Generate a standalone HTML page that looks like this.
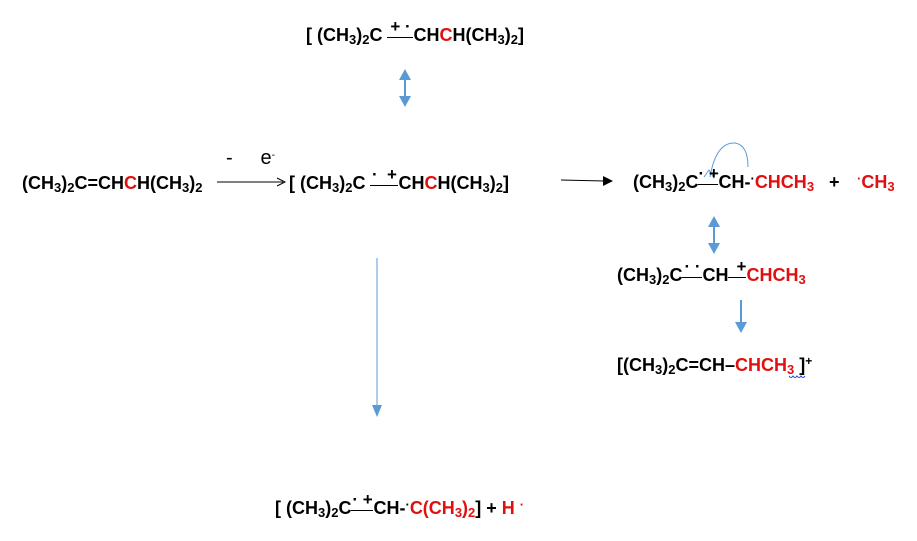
<!DOCTYPE html>
<html><head><meta charset="utf-8">
<style>
body{margin:0;width:917px;height:541px;background:#fff;position:relative;overflow:hidden;font-family:"Liberation Sans",Arial,sans-serif;}
.t{position:absolute;font-weight:bold;font-size:18px;white-space:nowrap;color:#000;line-height:20px;}
.r{color:#e01010;}
sub{font-size:13px;vertical-align:-3px;line-height:0;}
sup{font-size:12px;vertical-align:6px;line-height:0;}
.bd{display:inline-block;position:relative;height:0;border-top:1px solid #000;vertical-align:3px;}
.lb{position:absolute;top:-19px;left:0;width:100%;text-align:center;font-size:17px;line-height:16px;}
.dot{position:relative;top:-5px;font-size:13px;}
svg{position:absolute;left:0;top:0;}
</style></head><body>
<svg width="917" height="541">
<line x1="217" y1="182" x2="283" y2="182" stroke="#000" stroke-width="1"/>
<path d="M277,178 L285,182 L277,186" fill="none" stroke="#000" stroke-width="1"/>
<line x1="561" y1="180" x2="604" y2="181" stroke="#000" stroke-width="1"/>
<path d="M603,176 L613,181 L603,186 Z" fill="#000"/>
<g fill="#5b9bd5" stroke="#5b9bd5">
<line x1="405" y1="76" x2="405" y2="100" stroke-width="2"/>
<path d="M399,80 L405,69 L411,80 Z" stroke="none"/>
<path d="M399,96 L405,107 L411,96 Z" stroke="none"/>
<line x1="714" y1="222" x2="714" y2="248" stroke-width="2"/>
<path d="M708,227 L714,216 L720,227 Z" stroke="none"/>
<path d="M708,243 L714,254 L720,243 Z" stroke="none"/>
<line x1="741" y1="300" x2="741" y2="324" stroke-width="2"/>
<path d="M735,322 L741,333 L747,322 Z" stroke="none"/>
<line x1="377" y1="258" x2="377" y2="408" stroke-width="1"/>
<path d="M372,405 L377,417 L382,405 Z" stroke="none"/>
</g>
<path d="M710,177 Q716,142 735,143 Q748,145 748,167" fill="none" stroke="#5b9bd5" stroke-width="1"/>
<path d="M704,177 L709,170 L714,178" fill="none" stroke="#5b9bd5" stroke-width="1"/>
<path d="M789,376 q2,3 4,0 q2,3 4,0 q2,3 4,0 q2,3 4,0" fill="none" stroke="#2040d0" stroke-width="1"/>
</svg>

<div class="t" style="left:306px;top:25px">[ (CH<sub>3</sub>)<sub>2</sub>C <span class="bd" style="width:26px"><span class="lb">+ ·</span></span>CH<span class="r">C</span>H(CH<sub>3</sub>)<sub>2</sub>]</div>

<div class="t" style="left:226px;top:148px;font-weight:normal;font-size:20px">-&nbsp;&nbsp;&nbsp;&nbsp; e<sup style="font-size:10px">-</sup></div>

<div class="t" style="left:22px;top:173px">(CH<sub>3</sub>)<sub>2</sub>C=CH<span class="r">C</span>H(CH<sub>3</sub>)<sub>2</sub></div>

<div class="t" style="left:289px;top:173px">[ (CH<sub>3</sub>)<sub>2</sub>C <span class="bd" style="width:28px"><span class="lb">·&nbsp;&nbsp;+</span></span>CH<span class="r">C</span>H(CH<sub>3</sub>)<sub>2</sub>]</div>

<div class="t" style="left:633px;top:172px">(CH<sub>3</sub>)<sub>2</sub>C<span class="bd" style="width:20px"><span class="lb">·&nbsp;+</span></span>CH-<span class="dot">·</span><span class="r">CHCH<sub>3</sub></span></div>
<div class="t" style="left:829px;top:172px">+</div>
<div class="t r" style="left:857px;top:172px"><span class="dot">·</span>CH<sub>3</sub></div>

<div class="t" style="left:617px;top:265px">(CH<sub>3</sub>)<sub>2</sub>C<span class="bd" style="width:20px"><span class="lb">· ·</span></span>CH<span class="bd" style="width:18px"><span class="lb" style="text-align:right">+</span></span><span class="r">CHCH<sub>3</sub></span></div>

<div class="t" style="left:617px;top:355px">[(CH<sub>3</sub>)<sub>2</sub>C=CH–<span class="r">CHCH<sub>3</sub></span>&nbsp;]<sup>+</sup></div>

<div class="t" style="left:275px;top:498px">[ (CH<sub>3</sub>)<sub>2</sub>C<span class="bd" style="width:22px"><span class="lb">·&nbsp;+</span></span>CH-<span class="dot">·</span><span class="r">C(CH<sub>3</sub>)<sub>2</sub></span>] + <span class="r">H <span class="dot">·</span></span></div>
</body></html>
